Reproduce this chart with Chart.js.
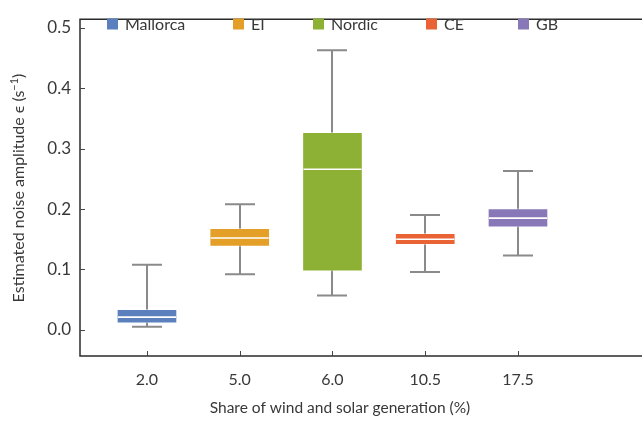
<!DOCTYPE html>
<html>
<head>
<meta charset="utf-8">
<script src="https://cdn.jsdelivr.net/npm/chart.js@4.4.0/dist/chart.umd.min.js"></script>
<style>
  html, body { margin: 0; padding: 0; background: #fff; }
  #wrap { width: 642px; height: 421px; position: relative; }
</style>
</head>
<body>
<div id="wrap"><canvas id="c"></canvas></div>
<script>
// Regions and their share of wind and solar generation
const regions = ['Mallorca', 'EI', 'Nordic', 'CE', 'GB'];
const shareLabels = ['2.0', '5.0', '6.0', '10.5', '17.5'];

// Box-plot statistics of the estimated noise amplitude (s^-1)
const whiskerLow  = [0.005, 0.092, 0.057, 0.096, 0.123];
const boxLow      = [0.011, 0.138, 0.097, 0.141, 0.170];
const medians     = [0.021, 0.152, 0.266, 0.150, 0.185];
const boxHigh     = [0.034, 0.168, 0.327, 0.160, 0.201];
const whiskerHigh = [0.108, 0.208, 0.463, 0.190, 0.263];

const colors = ['#5b80bd', '#e39f27', '#8db135', '#ea6335', '#8878b8'];
const yTickValues = [0, 0.1, 0.2, 0.3, 0.4, 0.5];

const FONT = 'Lato, "Open Sans", sans-serif';
const FS = 16;
const WEIGHT = 400;
const TEXT = '#383838';
const AXIS = '#2b2b2b';
const fontStr = (size) => WEIGHT + ' ' + size + 'px ' + FONT;

const datasets = regions.map((name, i) => ({
  label: name,
  data: [{ x: i, y: [boxLow[i], boxHigh[i]] }],
  backgroundColor: colors[i],
  borderColor: 'rgba(255,255,255,0.45)',
  borderWidth: 1,
  borderSkipped: false,
  barThickness: 60,
  grouped: false
}));

// Whiskers behind the boxes, medians on top
const boxPlotParts = {
  id: 'boxPlotParts',
  beforeDatasetsDraw(chart) {
    const { ctx, scales: { x, y } } = chart;
    ctx.save();
    ctx.strokeStyle = '#8a8a8a';
    ctx.lineWidth = 2;
    regions.forEach((_, i) => {
      const cx = Math.round(x.getPixelForValue(i));
      const yl = y.getPixelForValue(whiskerLow[i]);
      const yh = y.getPixelForValue(whiskerHigh[i]);
      ctx.beginPath();
      ctx.moveTo(cx, yl); ctx.lineTo(cx, yh);
      ctx.moveTo(cx - 15, yl); ctx.lineTo(cx + 15, yl);
      ctx.moveTo(cx - 15, yh); ctx.lineTo(cx + 15, yh);
      ctx.stroke();
    });
    ctx.restore();
  },
  afterDatasetsDraw(chart) {
    const { ctx, scales: { x, y } } = chart;
    ctx.save();
    ctx.strokeStyle = '#ffffff';
    ctx.lineWidth = 1.6;
    regions.forEach((_, i) => {
      const cx = x.getPixelForValue(i);
      const ym = y.getPixelForValue(medians[i]);
      ctx.beginPath();
      ctx.moveTo(cx - 29, ym); ctx.lineTo(cx + 29, ym);
      ctx.stroke();
    });
    ctx.restore();
  }
};

// Axis frame with inward ticks, legend row and axis titles
const legendX = [107, 233, 313, 426, 518];
const frameAndLabels = {
  id: 'frameAndLabels',
  afterDraw(chart) {
    const { ctx, chartArea: a, scales: { x, y } } = chart;
    ctx.save();
    ctx.strokeStyle = AXIS;
    ctx.lineWidth = 1.5;
    ctx.beginPath();
    ctx.moveTo(a.right + 2, a.top); ctx.lineTo(a.left, a.top);
    ctx.lineTo(a.left, a.bottom); ctx.lineTo(a.right + 2, a.bottom);
    ctx.stroke();
    ctx.lineWidth = 1;
    ctx.strokeStyle = '#444';
    y.ticks.forEach(t => {
      const py = Math.round(y.getPixelForValue(t.value)) + 0.5;
      ctx.beginPath(); ctx.moveTo(a.left, py); ctx.lineTo(a.left + 5, py); ctx.stroke();
    });
    x.ticks.forEach(t => {
      const px = Math.round(x.getPixelForValue(t.value)) + 0.5;
      ctx.beginPath(); ctx.moveTo(px, a.bottom); ctx.lineTo(px, a.bottom - 5); ctx.stroke();
    });

    // legend
    ctx.font = fontStr(FS);
    ctx.textBaseline = 'middle';
    ctx.textAlign = 'left';
    const ly = 24;
    chart.data.datasets.forEach((ds, i) => {
      const lx = legendX[i];
      ctx.fillStyle = ds.backgroundColor;
      ctx.fillRect(lx, ly - 5.5, 11, 11);
      ctx.fillStyle = TEXT;
      ctx.fillText(ds.label, lx + 18, ly + 1);
    });

    // x-axis title
    ctx.font = fontStr(15.5);
    ctx.textAlign = 'center';
    ctx.fillText('Share of wind and solar generation (%)', 340, 408);

    // y-axis title with superscript
    const main = 'Estimated noise amplitude \u03f5 (s';
    const sup = '\u22121';
    const tail = ')';
    ctx.textAlign = 'left';
    ctx.font = fontStr(FS);
    const w1 = ctx.measureText(main).width;
    const w3 = ctx.measureText(tail).width;
    ctx.font = fontStr(11);
    const w2 = ctx.measureText(sup).width;
    const total = w1 + w2 + w3;
    ctx.translate(19, 188);
    ctx.rotate(-Math.PI / 2);
    ctx.fillStyle = TEXT;
    ctx.textBaseline = 'alphabetic';
    let tx = -total / 2;
    ctx.font = fontStr(FS);
    ctx.fillText(main, tx, 5); tx += w1;
    ctx.font = fontStr(11);
    ctx.fillText(sup, tx, -1); tx += w2;
    ctx.font = fontStr(FS);
    ctx.fillText(tail, tx, 5);
    ctx.restore();
  }
};

new Chart(document.getElementById('c'), {
  type: 'bar',
  data: { datasets },
  options: {
    responsive: true,
    maintainAspectRatio: false,
    animation: false,
    layout: { padding: { top: 8, right: 0, bottom: 0, left: 0 } },
    plugins: { legend: { display: false }, tooltip: { enabled: false } },
    scales: {
      x: {
        type: 'linear',
        offset: false,
        min: -0.722,
        max: 5.337,
        grid: { display: false, drawTicks: false, offset: false },
        border: { display: false },
        afterBuildTicks: s => { s.ticks = shareLabels.map((_, i) => ({ value: i })); },
        afterFit: s => { s.height = 65; },
        ticks: {
          autoSkip: false,
          padding: 14,
          color: TEXT,
          font: { family: FONT, size: FS, weight: WEIGHT },
          callback: v => shareLabels[v]
        }
      },
      y: {
        min: -0.0433,
        max: 0.5144,
        grid: { display: false, drawTicks: false },
        border: { display: false },
        afterBuildTicks: s => { s.ticks = yTickValues.map(v => ({ value: v })); },
        afterFit: s => { s.width = 80; },
        ticks: {
          padding: 9,
          color: TEXT,
          font: { family: FONT, size: FS + 1, weight: WEIGHT },
          callback: v => v.toFixed(1)
        }
      }
    }
  },
  plugins: [boxPlotParts, frameAndLabels]
});
</script>
</body>
</html>
